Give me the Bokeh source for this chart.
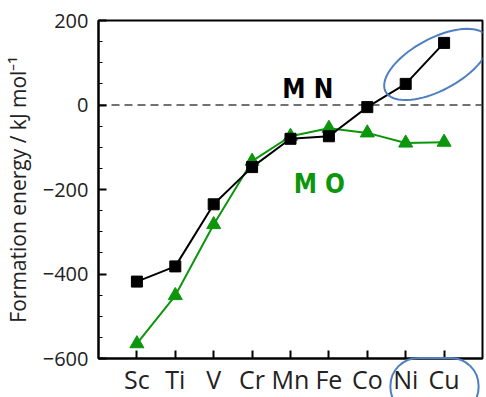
import numpy as np
from bokeh.plotting import figure
from bokeh.layouts import column
from bokeh.models import Range1d, FixedTicker, PolyAnnotation, Label
from bokeh.embed import file_html
from bokeh.resources import INLINE

elements = ["Sc", "Ti", "V", "Cr", "Mn", "Fe", "Co", "Ni", "Cu"]
mn_energy = [-418, -382, -235, -147, -80, -74, -5, 50, 147]
mo_energy = [-565, -451, -283, -133, -74, -55, -66, -90, -88]
y_ticks = [-600, -400, -200, 0, 200]

xs = list(range(len(elements)))

p = figure(width=486, height=455, frame_width=387, frame_height=338,
           output_backend="svg", toolbar_location=None,
           x_range=Range1d(-1, len(elements)), y_range=Range1d(-600, 200),
           min_border_left=95, min_border_top=20, min_border_right=4, min_border_bottom=39)
p.width_policy = "fixed"
p.height_policy = "fixed"
p.background_fill_color = "white"
p.border_fill_color = "white"
p.xgrid.visible = False
p.ygrid.visible = False
p.outline_line_color = "black"
p.outline_line_width = 2

# axes
p.xaxis.ticker = FixedTicker(ticks=xs)
p.xaxis.major_label_overrides = {i: e for i, e in enumerate(elements)}
p.xaxis.major_tick_in = 8
p.xaxis.major_tick_out = 0
p.xaxis.minor_tick_line_color = None
p.xaxis.major_label_text_font = "Open Sans"
p.xaxis.major_label_text_font_size = "25px"
p.xaxis.major_label_text_color = "#222222"
p.xaxis.major_label_standoff = 3
p.xaxis.axis_line_width = 2
p.xaxis.major_tick_line_width = 2

p.yaxis.ticker = FixedTicker(ticks=y_ticks, minor_ticks=list(range(-600, 201, 50)))
p.yaxis.major_tick_in = 8
p.yaxis.major_tick_out = 0
p.yaxis.minor_tick_in = 4
p.yaxis.minor_tick_out = 0
p.yaxis.major_tick_line_width = 2
p.yaxis.axis_line_width = 2
p.yaxis.major_label_text_font = "Open Sans"
p.yaxis.major_label_text_font_size = "20px"
p.yaxis.major_label_text_color = "#222222"
p.yaxis.major_label_standoff = 10
p.yaxis.axis_label = "Formation energy / kJ mol\u207b\u00b9"
p.yaxis.axis_label_text_font = "Open Sans"
p.yaxis.axis_label_text_font_style = "normal"
p.yaxis.axis_label_text_font_size = "21px"
p.yaxis.axis_label_text_color = "#222222"
p.yaxis.axis_label_standoff = 8

# zero line
p.line(x=[-1, len(elements)], y=[0, 0], line_color="#444444", line_width=1.5, line_dash="8 5")

green = "#0b960b"
p.line(xs, mo_energy, line_color=green, line_width=2)
p.scatter(xs, mo_energy, marker="triangle", size=14, fill_color=green, line_color=green)
p.line(xs, mn_energy, line_color="black", line_width=2)
p.scatter(xs, mn_energy, marker="square", size=11, fill_color="black", line_color="black")

lbl_font = "DejaVu Sans Condensed"
p.add_layout(Label(x=4.45, y=38, text="M N", text_font=lbl_font,
                   text_font_style="bold", text_font_size="26px", text_color="black",
                   text_align="center", text_baseline="middle"))
p.add_layout(Label(x=4.75, y=-186, text="M O", text_font=lbl_font,
                   text_font_style="bold", text_font_size="26px", text_color=green,
                   text_align="center", text_baseline="middle"))

# highlight ellipses (decoration)
pxx = 38.7
pxy = 338 / 800
t = np.linspace(0, 2 * np.pi, 80)

def ellipse_pts(cx, cy, a, b, ang_deg):
    th = np.deg2rad(ang_deg)
    dx = a * np.cos(t) * np.cos(th) - b * np.sin(t) * np.sin(th)
    dy = a * np.cos(t) * np.sin(th) + b * np.sin(t) * np.cos(th)
    return list(cx + dx / pxx), list(cy + dy / pxy)

blue = "#4f7fc0"
ex, ey = ellipse_pts(7.8, 96, 58, 26, 28)
p.add_layout(PolyAnnotation(xs=ex, ys=ey, fill_color=None, fill_alpha=0,
                            line_color=blue, line_alpha=1, line_width=2))

p.add_layout(Label(x=7.75, y=-666, text=" ", text_font_size="8px",
                   text_align="center", text_baseline="middle",
                   border_line_color=blue, border_line_width=2,
                   padding=dict(left=43, right=43, top=24, bottom=24),
                   border_radius=28), "below")

page = column(p, width=486, height=397, sizing_mode="fixed", styles={"overflow": "hidden"})

open("out.html", "w").write(file_html(page, INLINE))
